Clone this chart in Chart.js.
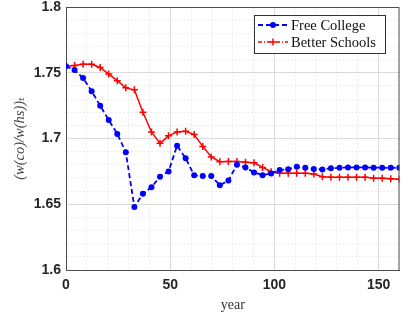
<!DOCTYPE html>
<html>
<head>
<meta charset="utf-8">
<script src="https://cdn.jsdelivr.net/npm/chart.js@4"></script>
<style>
  html, body { margin: 0; padding: 0; background: #fff; }
  #wrap { width: 405px; height: 318px; position: relative; }
</style>
</head>
<body>
<div id="wrap"><canvas id="chart" width="405" height="318"></canvas></div>
<script>
// years (marker positions)
const years = [0, 4.1, 8.2, 12.3, 16.4, 20.5, 24.6, 28.7, 32.8, 36.9,
  41, 45.1, 49.2, 53.3, 57.4, 61.5, 65.6, 69.7, 73.8, 77.9,
  82, 86.1, 90.2, 94.3, 98.4, 102.5, 106.6, 110.7, 114.8, 118.9,
  123, 127.1, 131.2, 135.3, 139.4, 143.5, 147.6, 151.7, 155.8, 159.9];

const freeCollege = [1.755, 1.752, 1.746, 1.736, 1.725, 1.714, 1.7035, 1.6895, 1.648, 1.658,
  1.663, 1.671, 1.675, 1.6945, 1.685, 1.672, 1.6714, 1.6714, 1.6645, 1.668,
  1.680, 1.678, 1.6742, 1.6721, 1.6734, 1.676, 1.6767, 1.6785, 1.6777, 1.6768,
  1.6765, 1.6773, 1.6777, 1.678, 1.678, 1.678, 1.6778, 1.6778, 1.6777, 1.6778];

const betterSchools = [1.755, 1.7555, 1.7565, 1.7565, 1.754, 1.749, 1.744, 1.7385, 1.737, 1.720,
  1.705, 1.6963, 1.702, 1.705, 1.7055, 1.703, 1.694, 1.686, 1.6823, 1.6825,
  1.6825, 1.682, 1.6815, 1.678, 1.6747, 1.6735, 1.6735, 1.6735, 1.6735, 1.673,
  1.671, 1.6705, 1.6705, 1.6705, 1.6705, 1.6705, 1.6697, 1.6697, 1.6694, 1.669];

const seriesNames = ['Free College', 'Better Schools'];
const xMajor = [0, 50, 100, 150];
const yMajor = [1.6, 1.65, 1.7, 1.75, 1.8];

const toPts = (vals) => vals.map((v, i) => ({ x: years[i], y: v }));

const isMajorX = (v) => xMajor.includes(Math.round(v));
const isMajorY = (v) => yMajor.some(m => Math.abs(m - v) < 1e-6);

// box + legend drawn over the plot, MATLAB style
const boxAndLegend = {
  id: 'boxAndLegend',
  afterDraw(chart) {
    const { ctx, chartArea: a } = chart;
    ctx.save();
    ctx.strokeStyle = '#4d4d4d';
    ctx.lineWidth = 1;
    ctx.beginPath();
    ctx.moveTo(a.left, a.top + 0.5);
    ctx.lineTo(a.right - 0.5, a.top + 0.5);
    ctx.lineTo(a.right - 0.5, a.bottom);
    ctx.stroke();

    // legend
    const lx = 254, ly = 15, lw = 131, lh = 38;
    ctx.fillStyle = '#fff';
    ctx.fillRect(lx, ly, lw, lh);
    ctx.strokeStyle = '#333';
    ctx.strokeRect(lx + 0.5, ly + 0.5, lw, lh);

    ctx.font = '14.5px "Liberation Serif", "DejaVu Serif", serif';
    ctx.textBaseline = 'middle';
    ctx.textAlign = 'left';

    // free college row
    let y = 25;
    ctx.strokeStyle = '#0000ff';
    ctx.lineWidth = 1.8;
    ctx.setLineDash([5, 3]);
    ctx.beginPath(); ctx.moveTo(258, y); ctx.lineTo(288, y); ctx.stroke();
    ctx.setLineDash([]);
    ctx.fillStyle = '#0000ff';
    ctx.beginPath(); ctx.arc(273, y, 3, 0, Math.PI * 2); ctx.fill();
    ctx.fillStyle = '#111';
    ctx.fillText(seriesNames[0], 291, y + 1);

    // better schools row
    y = 42;
    ctx.strokeStyle = '#ff0000';
    ctx.lineWidth = 1.5;
    ctx.setLineDash([4, 2, 1, 2]);
    ctx.beginPath(); ctx.moveTo(258, y); ctx.lineTo(288, y); ctx.stroke();
    ctx.setLineDash([]);
    ctx.beginPath();
    ctx.moveTo(269.5, y); ctx.lineTo(276.5, y);
    ctx.moveTo(273, y - 3.5); ctx.lineTo(273, y + 3.5);
    ctx.stroke();
    ctx.fillStyle = '#111';
    ctx.fillText(seriesNames[1], 291, y + 1);
    ctx.restore();
  }
};

new Chart(document.getElementById('chart').getContext('2d'), {
  type: 'line',
  data: {
    datasets: [
      {
        label: seriesNames[0],
        data: toPts(freeCollege),
        borderColor: '#0000ff',
        backgroundColor: '#0000ff',
        borderWidth: 1.8,
        borderDash: [5, 3],
        pointStyle: 'circle',
        pointRadius: 3,
        pointBorderWidth: 0,
        tension: 0
      },
      {
        label: seriesNames[1],
        data: toPts(betterSchools),
        borderColor: '#ff0000',
        backgroundColor: '#ff0000',
        borderWidth: 1.5,
        pointStyle: 'cross',
        pointRadius: 3.5,
        pointBorderWidth: 1.5,
        tension: 0
      }
    ]
  },
  options: {
    responsive: false,
    animation: false,
    devicePixelRatio: 1,
    layout: { padding: { left: 0, right: 0, top: 7, bottom: 0 } },
    plugins: { legend: { display: false }, tooltip: { enabled: false } },
    scales: {
      x: {
        type: 'linear',
        min: 0,
        max: 160,
        afterFit(scale) {
          scale.height = 48;
          scale.paddingLeft = 0;
          scale.paddingRight = 0;
        },
        ticks: {
          stepSize: 10,
          autoSkip: false,
          maxRotation: 0,
          padding: 7,
          color: '#262626',
          font: { family: '"Liberation Sans", Arial, sans-serif', size: 14, weight: 'bold' },
          callback: (v) => isMajorX(v) ? String(v) : ''
        },
        grid: {
          drawTicks: false,
          color: (c) => isMajorX(c.tick.value) ? '#dadada' : '#ececec',
          lineWidth: 1
        },
        border: {
          color: '#4d4d4d',
          dash: (c) => (c.tick && !isMajorX(c.tick.value)) ? [2, 2] : []
        },
        title: {
          display: true,
          text: 'year',
          color: '#333',
          font: { family: '"Liberation Serif", "DejaVu Serif", serif', size: 14 },
          padding: { top: 0, bottom: 4 }
        }
      },
      y: {
        min: 1.6,
        max: 1.8,
        afterFit(scale) {
          scale.width = 66;
          scale.paddingTop = 0;
          scale.paddingBottom = 0;
        },
        ticks: {
          stepSize: 0.01,
          autoSkip: false,
          padding: 5,
          color: '#262626',
          font: { family: '"Liberation Sans", Arial, sans-serif', size: 14, weight: 'bold' },
          callback: (v) => isMajorY(v) ? String(Number(v.toFixed(2))) : ''
        },
        grid: {
          drawTicks: false,
          color: (c) => isMajorY(c.tick.value) ? '#dadada' : '#ececec',
          lineWidth: 1
        },
        border: {
          color: '#4d4d4d',
          dash: (c) => (c.tick && !isMajorY(c.tick.value)) ? [2, 2] : []
        },
        title: {
          display: true,
          text: '(w(co)/w(hs))ₜ',
          color: '#444',
          font: { family: '"Liberation Serif", "DejaVu Serif", serif', size: 14.5, style: 'italic' },
          padding: { top: 11, bottom: 0 }
        }
      }
    }
  },
  plugins: [boxAndLegend]
});
</script>
</body>
</html>
